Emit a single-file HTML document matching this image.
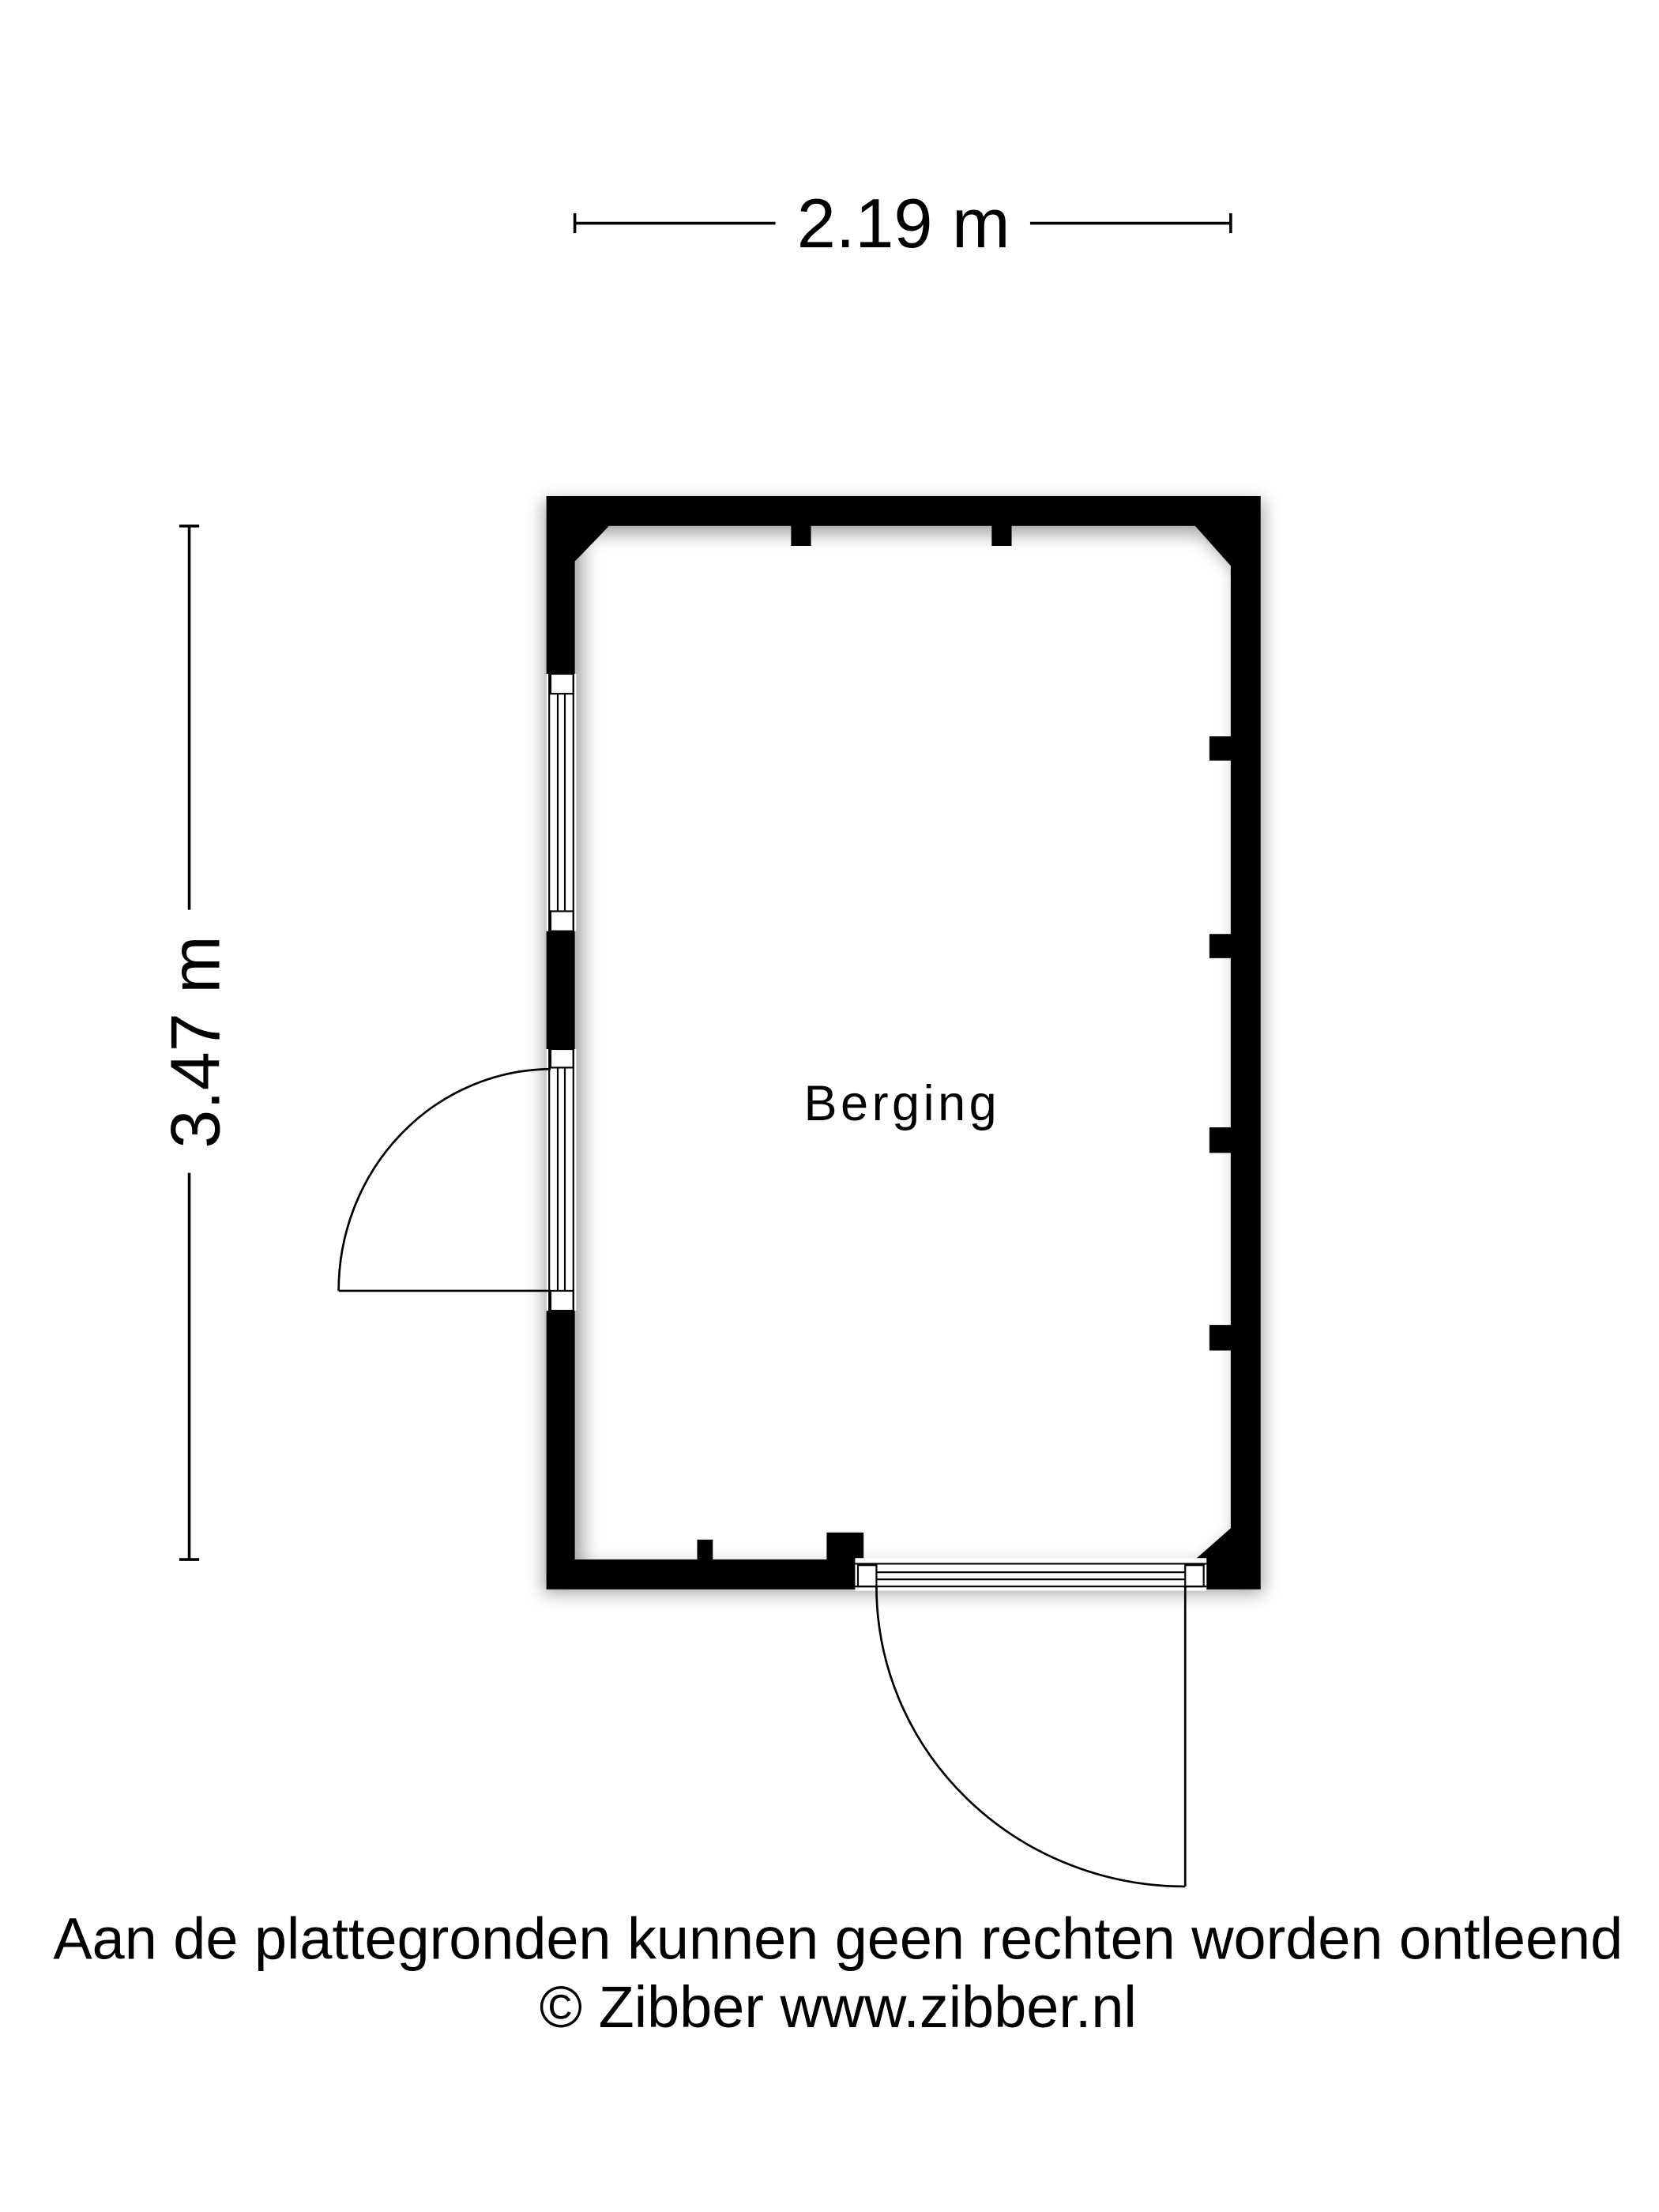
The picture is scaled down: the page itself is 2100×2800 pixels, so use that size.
<!DOCTYPE html>
<html><head><meta charset="utf-8"><style>
html,body{margin:0;padding:0;background:#fff;}
svg{display:block;}
</style></head><body>
<svg width="2100" height="2800" viewBox="0 0 1166 1556" preserveAspectRatio="none" xmlns="http://www.w3.org/2000/svg">
<defs>
<filter id="sh" x="-10%" y="-10%" width="120%" height="120%"><feGaussianBlur stdDeviation="6"/></filter>
</defs>
<rect width="1166" height="1556" fill="#fff"/>
<g filter="url(#sh)" opacity="0.35">
<path fill-rule="evenodd" fill="#000" d="M382 352 H888 V1121 H382 Z M410 376 L436 376 H844 L869 402 V1079 L844 1101 H410 Z"/>
</g>
<path fill-rule="evenodd" fill="#000" d="M384 349 H886 V1118 H384 Z M428 370 H840 L865 398 V1075 L840 1097 H404 V395 Z"/>
<g fill="#000">
<rect x="556" y="369" width="14" height="15"/>
<rect x="697" y="369" width="14" height="15"/>
<rect x="850" y="518" width="16" height="17"/>
<rect x="850" y="657" width="16" height="17"/>
<rect x="850" y="793" width="16" height="18"/>
<rect x="850" y="932" width="16" height="18"/>
<rect x="490" y="1083" width="11" height="15"/>
<rect x="581" y="1078" width="26" height="20"/>
</g>
<rect x="384" y="474" width="21" height="181" fill="#fff"/>
<g fill="none" stroke="#000" stroke-width="1.2">
<line x1="386" y1="474" x2="386" y2="655"/>
<line x1="403" y1="474" x2="403" y2="655"/>
<rect x="387" y="474" width="16" height="14"/>
<rect x="387" y="641" width="16" height="14"/>
<line x1="392" y1="488" x2="392" y2="641"/>
<line x1="397" y1="488" x2="397" y2="641"/>
</g>
<rect x="384" y="738" width="21" height="184" fill="#fff"/>
<g fill="none" stroke="#000" stroke-width="1.2">
<line x1="386" y1="738" x2="386" y2="922"/>
<line x1="403" y1="738" x2="403" y2="922"/>
<rect x="387" y="738" width="16" height="13"/>
<rect x="387" y="908" width="16" height="14"/>
<line x1="392" y1="751" x2="392" y2="908"/>
<line x1="397" y1="751" x2="397" y2="908"/>
<line x1="238" y1="908" x2="387" y2="908" stroke-width="1.5"/>
<path d="M238 908 A150 156 0 0 1 387 752" stroke-width="1.5"/>
</g>
<rect x="601" y="1096" width="247" height="23" fill="#fff"/>
<g fill="none" stroke="#000" stroke-width="1.2">
<line x1="601" y1="1100" x2="848" y2="1100"/>
<line x1="601" y1="1116" x2="848" y2="1116"/>
<rect x="603" y="1101" width="13" height="15"/>
<rect x="833" y="1101" width="13" height="15"/>
<line x1="616" y1="1106" x2="833" y2="1106"/>
<line x1="616" y1="1111" x2="833" y2="1111"/>
<line x1="833" y1="1116" x2="833" y2="1327" stroke-width="1.5"/>
<path d="M616 1116 A217 211 0 0 0 833 1327" stroke-width="1.5"/>
</g>
<g stroke="#000" stroke-width="2" fill="none">
<line x1="404" y1="157" x2="545" y2="157"/>
<line x1="724" y1="157" x2="865" y2="157"/>
<line x1="404" y1="150" x2="404" y2="164"/>
<line x1="865" y1="150" x2="865" y2="164"/>
<line x1="133" y1="370" x2="133" y2="640"/>
<line x1="133" y1="825" x2="133" y2="1097"/>
<line x1="126" y1="370" x2="140" y2="370"/>
<line x1="126" y1="1097" x2="140" y2="1097"/>
</g>
<g font-family="'Liberation Sans', sans-serif" fill="#000">
<text x="635" y="174" font-size="49" text-anchor="middle">2.19 m</text>
<text transform="translate(154,733) rotate(-90)" font-size="49" text-anchor="middle">3.47 m</text>
<text x="634" y="788" font-size="35" text-anchor="middle" letter-spacing="2.5">Berging</text>
<text x="589" y="1378" font-size="41" text-anchor="middle">Aan de plattegronden kunnen geen rechten worden ontleend</text>
<text x="589" y="1426" font-size="41" text-anchor="middle">© Zibber www.zibber.nl</text>
</g>
</svg>
</body></html>
